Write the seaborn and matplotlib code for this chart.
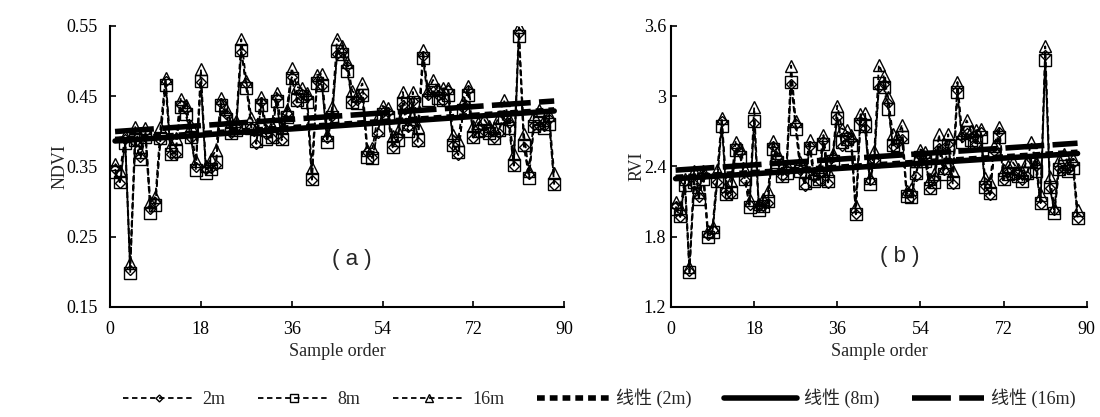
import numpy as np
import pandas as pd
import matplotlib
matplotlib.use("Agg")
import matplotlib.pyplot as plt
import seaborn as sns

# sample index (x axis)
sample = list(range(1, 89))

# NDVI values
ndvi_2m = [0.346, 0.326, 0.389, 0.203, 0.384, 0.363, 0.399, 0.290, 0.299, 0.388,
           0.472, 0.368, 0.368, 0.438, 0.432, 0.391, 0.349, 0.470, 0.346, 0.347,
           0.352, 0.440, 0.425, 0.397, 0.406, 0.513, 0.468, 0.406, 0.382, 0.441,
           0.396, 0.391, 0.447, 0.387, 0.426, 0.477, 0.441, 0.453, 0.449, 0.331,
           0.472, 0.464, 0.391, 0.421, 0.510, 0.513, 0.493, 0.441, 0.444, 0.450,
           0.370, 0.363, 0.398, 0.428, 0.427, 0.377, 0.392, 0.438, 0.406, 0.443,
           0.384, 0.507, 0.452, 0.457, 0.452, 0.443, 0.458, 0.381, 0.366, 0.433,
           0.459, 0.391, 0.404, 0.400, 0.404, 0.391, 0.398, 0.423, 0.412, 0.351,
           0.540, 0.378, 0.339, 0.409, 0.408, 0.408, 0.417, 0.324]
ndvi_8m = [0.342, 0.328, 0.383, 0.198, 0.388, 0.360, 0.392, 0.284, 0.295, 0.390,
           0.466, 0.367, 0.372, 0.435, 0.425, 0.392, 0.345, 0.472, 0.340, 0.346,
           0.356, 0.437, 0.418, 0.398, 0.402, 0.515, 0.462, 0.405, 0.386, 0.438,
           0.389, 0.392, 0.443, 0.389, 0.420, 0.476, 0.445, 0.450, 0.442, 0.332,
           0.468, 0.466, 0.385, 0.420, 0.514, 0.510, 0.486, 0.442, 0.440, 0.452,
           0.364, 0.362, 0.402, 0.425, 0.420, 0.378, 0.388, 0.440, 0.400, 0.442,
           0.388, 0.504, 0.445, 0.458, 0.448, 0.445, 0.452, 0.380, 0.370, 0.430,
           0.452, 0.392, 0.400, 0.402, 0.398, 0.390, 0.402, 0.420, 0.405, 0.352,
           0.536, 0.380, 0.333, 0.408, 0.412, 0.405, 0.410, 0.325]
ndvi_16m = [0.354, 0.344, 0.393, 0.212, 0.406, 0.371, 0.405, 0.299, 0.307, 0.406,
            0.476, 0.381, 0.390, 0.446, 0.438, 0.407, 0.357, 0.488, 0.350, 0.360,
            0.374, 0.448, 0.431, 0.413, 0.414, 0.531, 0.472, 0.419, 0.404, 0.449,
            0.402, 0.407, 0.455, 0.405, 0.430, 0.490, 0.463, 0.461, 0.455, 0.347,
            0.480, 0.482, 0.395, 0.434, 0.532, 0.521, 0.499, 0.457, 0.452, 0.468,
            0.374, 0.376, 0.420, 0.436, 0.433, 0.393, 0.400, 0.456, 0.410, 0.456,
            0.406, 0.515, 0.458, 0.473, 0.460, 0.461, 0.462, 0.394, 0.388, 0.441,
            0.465, 0.407, 0.412, 0.418, 0.408, 0.404, 0.420, 0.445, 0.418, 0.367,
            0.548, 0.396, 0.343, 0.422, 0.430, 0.416, 0.423, 0.340]

# RVI values
rvi_2m = [2.058, 1.967, 2.273, 1.509, 2.247, 2.140, 2.327, 1.817, 1.853, 2.268,
          2.787, 2.165, 2.165, 2.559, 2.520, 2.284, 2.072, 2.774, 2.058, 2.063,
          2.087, 2.571, 2.477, 2.316, 2.366, 3.107, 2.758, 2.367, 2.236, 2.578,
          2.310, 2.284, 2.617, 2.262, 2.484, 2.824, 2.578, 2.656, 2.629, 1.990,
          2.787, 2.731, 2.284, 2.454, 3.081, 3.107, 2.944, 2.578, 2.597, 2.637,
          2.174, 2.140, 2.322, 2.496, 2.489, 2.210, 2.289, 2.558, 2.366, 2.590,
          2.247, 3.056, 2.650, 2.683, 2.649, 2.591, 2.690, 2.231, 2.155, 2.528,
          2.697, 2.284, 2.355, 2.333, 2.355, 2.284, 2.322, 2.466, 2.400, 2.081,
          3.348, 2.216, 2.026, 2.384, 2.378, 2.378, 2.430, 1.959]
rvi_8m = [2.040, 1.976, 2.241, 1.494, 2.268, 2.125, 2.289, 1.793, 1.837, 2.279,
          2.745, 2.160, 2.185, 2.540, 2.478, 2.289, 2.053, 2.788, 2.030, 2.058,
          2.106, 2.552, 2.436, 2.322, 2.344, 3.124, 2.717, 2.361, 2.257, 2.559,
          2.273, 2.289, 2.591, 2.273, 2.448, 2.817, 2.604, 2.636, 2.584, 1.994,
          2.759, 2.745, 2.252, 2.448, 3.115, 3.082, 2.891, 2.584, 2.571, 2.650,
          2.145, 2.135, 2.344, 2.478, 2.448, 2.215, 2.268, 2.571, 2.333, 2.584,
          2.268, 3.032, 2.604, 2.690, 2.623, 2.604, 2.650, 2.226, 2.175, 2.509,
          2.650, 2.289, 2.333, 2.344, 2.322, 2.279, 2.344, 2.448, 2.361, 2.086,
          3.310, 2.226, 1.999, 2.378, 2.401, 2.361, 2.390, 1.963]
rvi_16m = [2.095, 2.046, 2.294, 1.538, 2.363, 2.179, 2.359, 1.852, 1.885, 2.365,
           2.815, 2.230, 2.277, 2.609, 2.556, 2.370, 2.109, 2.903, 2.076, 2.124,
           2.192, 2.621, 2.513, 2.405, 2.411, 3.260, 2.786, 2.439, 2.352, 2.628,
           2.343, 2.370, 2.668, 2.359, 2.507, 2.919, 2.721, 2.709, 2.667, 2.061,
           2.844, 2.857, 2.305, 2.531, 3.268, 3.173, 2.990, 2.680, 2.648, 2.757,
           2.194, 2.204, 2.445, 2.544, 2.525, 2.293, 2.332, 2.673, 2.389, 2.674,
           2.363, 3.121, 2.689, 2.792, 2.702, 2.708, 2.717, 2.299, 2.265, 2.577,
           2.737, 2.370, 2.400, 2.434, 2.377, 2.355, 2.445, 2.604, 2.434, 2.158,
           3.425, 2.309, 2.044, 2.458, 2.505, 2.423, 2.464, 2.029]

series_names = ["2m", "8m", "16m"]
trend_names = ["线性 (2m)", "线性 (8m)", "线性 (16m)"]
x_ticks = [0, 18, 36, 54, 72, 90]
ndvi_ticks = [0.15, 0.25, 0.35, 0.45, 0.55]
ndvi_labels = ["0.15", "0.25", "0.35", "0.45", "0.55"]
rvi_ticks = [1.2, 1.8, 2.4, 3.0, 3.6]
rvi_labels = ["1.2", "1.8", "2.4", "3", "3.6"]

sns.set_style("ticks")
serif = ["Liberation Serif", "Noto Sans CJK SC"]
plt.rcParams["font.family"] = serif
plt.rcParams["xtick.direction"] = "in"
plt.rcParams["ytick.direction"] = "in"

markers = ["D", "s", "^"]
msizes = [5, 8.5, 9]
trend_styles = [dict(lw=4, dashes=(1.4, 0.9)),
                dict(lw=4),
                dict(lw=4, dashes=(7, 1.5))]

fig = plt.figure(figsize=(11, 4.17), dpi=100)
ax1 = fig.add_axes([0.100, 0.264, 0.413, 0.674])
ax2 = fig.add_axes([0.610, 0.264, 0.378, 0.674])


def draw_panel(ax, ys, ylabel, yticks, ylabels, tag, tag_xy, ypad, ylab_x):
    for y, name, m, ms in zip(ys, series_names, markers, msizes):
        sns.lineplot(x=sample, y=y, ax=ax, color="k", marker=m,
                     markersize=ms, markerfacecolor="none",
                     markeredgecolor="k", markeredgewidth=1.0,
                     linestyle=(0, (3, 2)), linewidth=1.3, label=name,
                     errorbar=None)
    for y, name, st in zip(ys, trend_names, trend_styles):
        sns.regplot(x=np.array(sample), y=np.array(y), ax=ax, scatter=False,
                    ci=None, color="k", label=name, line_kws=st)
    if ax.get_legend():
        ax.get_legend().remove()
    ax.set_xlim(0, 90)
    ax.set_ylim(yticks[0], yticks[-1])
    ax.set_xticks(x_ticks)
    ax.set_yticks(yticks)
    ax.set_yticklabels(ylabels)
    ax.tick_params(labelsize=13, length=4, width=1.2, colors="k")
    ax.tick_params(axis="x", pad=10)
    ax.tick_params(axis="y", pad=ypad)
    ax.set_xlabel("Sample order", fontsize=13, labelpad=4)
    ax.set_ylabel(ylabel, fontsize=13)
    ax.yaxis.set_label_coords(ylab_x, 0.5)
    for s in ["left", "bottom"]:
        ax.spines[s].set_linewidth(1.5)
        ax.spines[s].set_color("k")
    sns.despine(ax=ax)
    ax.text(tag_xy[0], tag_xy[1], tag, transform=ax.transAxes,
            fontsize=16, family="Liberation Sans", ha="center", va="center")


draw_panel(ax1, [ndvi_2m, ndvi_8m, ndvi_16m], "NDVI", ndvi_ticks,
           ndvi_labels, "( a )", (0.533, 0.17), 9, -0.092)
draw_panel(ax2, [rvi_2m, rvi_8m, rvi_16m], "RVI", rvi_ticks,
           rvi_labels, "( b )", (0.55, 0.18), 3.5, -0.062)

handles, labels = ax1.get_legend_handles_labels()
fig.legend(handles, labels, loc="center", bbox_to_anchor=(0.545, 0.045),
           ncol=6, frameon=False, fontsize=13, handlelength=4.0,
           columnspacing=1.8, handletextpad=0.4, markerscale=0.7)

fig.savefig("out.png", dpi=100)
